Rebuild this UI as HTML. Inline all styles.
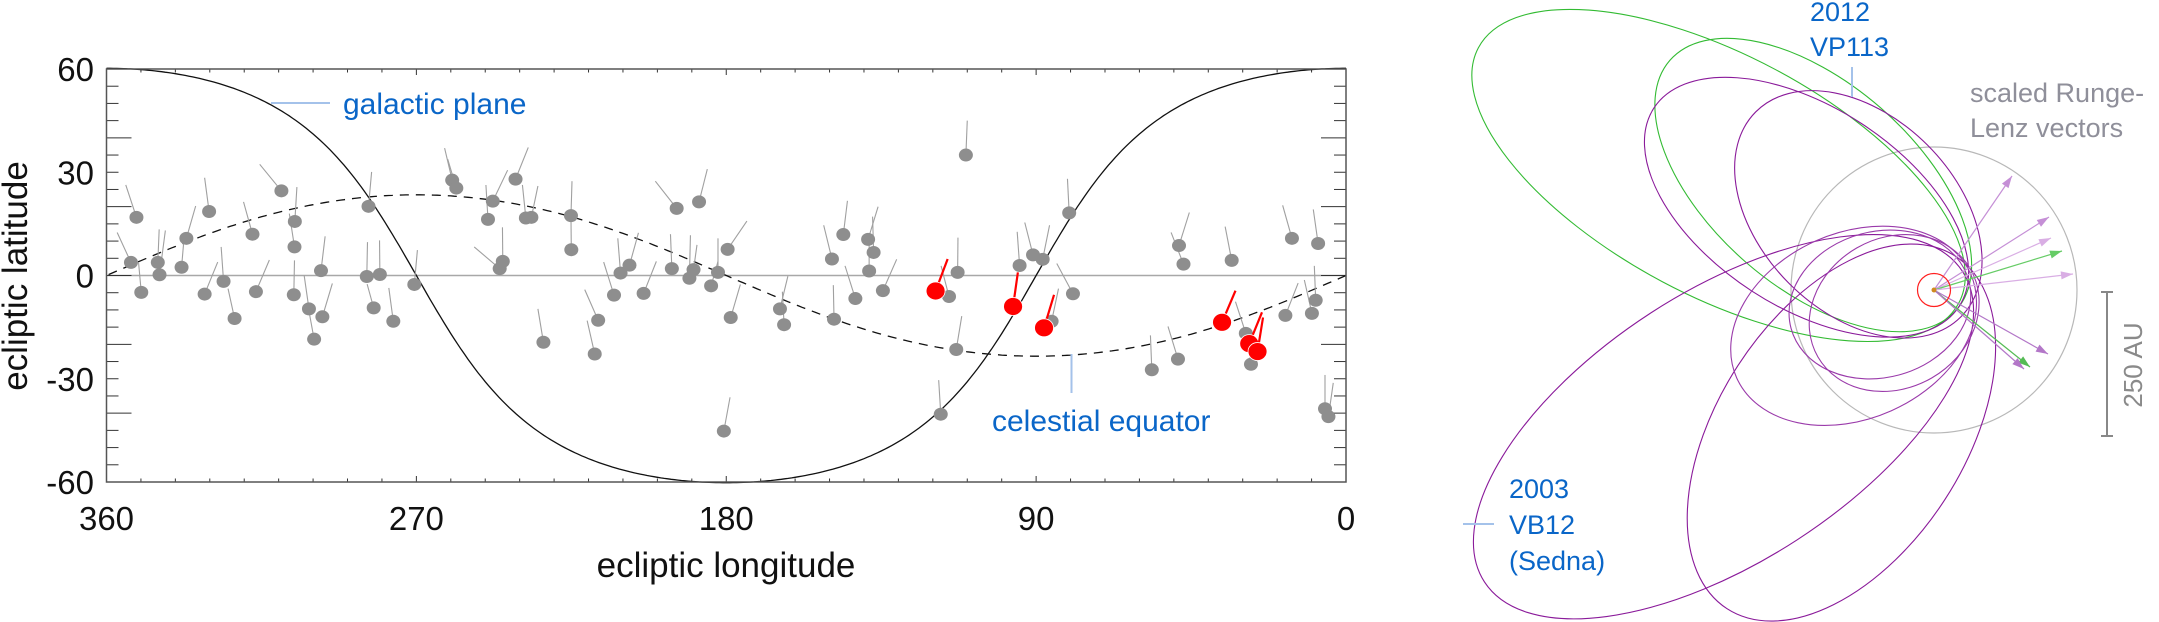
<!DOCTYPE html>
<html><head><meta charset="utf-8"><style>
html,body{margin:0;padding:0;background:#fff;width:2159px;height:622px;overflow:hidden;}
svg{display:block;font-family:"Liberation Sans",sans-serif;overflow:hidden;}
</style></head><body>
<svg id="root" width="2159" height="622" viewBox="0 0 2159 622" xmlns="http://www.w3.org/2000/svg">
<g id="chart"></g>
<g id="orbits"></g>
</svg>
<script>
// ---- data: gray objects ----
const grayLon = [352.9,351.3,349.9,345.1,344.6,338.2,336.8,331.5,330.2,326.0,322.8,317.6,316.6,309.2,305.3,305.4,305.6,301.2,299.7,297.7,297.3,284.4,283.9,280.6,282.4,276.7,270.6,259.6,258.4,249.2,247.8,241.2,238.2,236.6,244.9,245.8,233.1,225.1,225.0,217.2,218.2,212.6,210.7,208.1,204.0,194.4,195.8,190.7,187.9,189.5,184.4,182.4,179.6,178.7,180.7,164.4,163.2,149.3,148.7,146.0,142.5,138.8,137.2,138.5,134.5,115.3,112.8,110.4,113.2,117.7,94.8,90.9,88.1,80.4,85.5,79.3,56.4,48.8,48.5,47.2,33.2,29.1,27.6,15.7,8.1,17.6,9.9,8.8,6.1,5.1];
const grayLat = [3.8,16.9,-4.9,3.8,0.2,2.4,10.8,-5.4,18.6,-1.7,-12.5,12.0,-4.7,24.6,15.7,8.3,-5.6,-9.7,-18.5,1.4,-12.0,-0.3,20.1,0.3,-9.4,-13.3,-2.6,27.7,25.4,16.3,21.6,28.0,16.7,16.9,4.1,2.0,-19.4,17.4,7.5,-13.0,-22.8,-5.7,0.7,3.0,-5.2,19.5,2.0,-0.8,21.4,1.7,-3.0,0.9,7.6,-12.2,-45.2,-9.7,-14.3,4.8,-12.7,11.9,-6.7,10.5,6.7,1.3,-4.4,-6.1,0.9,35.0,-21.5,-40.3,2.9,6.0,4.7,18.2,-13.3,-5.3,-27.4,-24.3,8.7,3.3,4.4,-16.8,-25.8,10.8,9.3,-11.6,-11.0,-7.2,-38.7,-41.0];
const grayTipLon = [356.9,354.4,350.7,344.7,342.9,337.6,334.1,327.7,331.5,326.7,324.7,320.2,312.7,315.5,304.7,306.9,305.4,302.6,301.5,296.5,294.4,284.2,283.0,280.7,284.3,278.0,269.7,261.8,260.9,249.8,243.5,237.5,239.2,234.7,245.0,253.2,234.7,224.8,225.1,221.1,220.4,215.6,211.5,205.5,200.3,200.6,196.2,190.4,185.5,188.5,182.4,182.4,174.0,175.9,178.9,162.1,163.7,151.7,148.9,144.8,145.5,135.9,137.5,138.5,130.5,117.6,112.7,110.0,111.6,118.3,95.5,93.3,86.1,80.9,83.5,84.0,56.8,51.7,45.5,50.8,35.1,32.1,28.8,18.4,9.5,13.9,12.1,9.2,6.1,3.7];
const grayTipLat = [12.5,26.3,3.9,13.4,13.1,9.4,20.2,3.9,28.4,8.3,-3.8,21.4,4.5,32.3,25.7,18.0,4.4,0.1,-8.7,11.4,-2.3,9.7,30.1,10.2,-2.5,-3.6,7.4,37.0,33.8,26.3,30.6,37.2,26.3,26.0,14.0,8.3,-9.7,27.4,17.0,-4.1,-13.1,3.9,10.8,12.4,4.1,27.4,12.0,11.7,30.9,8.9,4.1,10.8,15.8,-2.6,-35.4,-0.2,-4.7,14.6,-2.8,21.7,2.8,20.0,17.1,11.0,4.7,2.8,11.0,45.0,-11.8,-30.4,12.7,15.4,14.6,28.1,-3.8,3.5,-17.4,-14.8,18.3,12.5,14.2,-7.6,-16.2,20.4,19.2,-2.2,-1.3,2.8,-28.9,-31.2];
// ---- data: red objects ----
const redLon = [119.2,96.7,87.7,36.0,28.1,25.7];
const redLat = [-4.5,-9.0,-15.2,-13.6,-19.8,-22.1];
const redTipLon = [115.7,95.3,84.8,32.1,24.4,24.1];
const redTipLat = [4.8,0.9,-5.6,-4.4,-10.7,-12.2];
const xTickLabels = [360,270,180,90,0];
const yTickLabels = [60,30,0,-30,-60];

const NS='http://www.w3.org/2000/svg';
function mk(tag, attrs, parent){const e=document.createElementNS(NS,tag);for(const k in attrs)e.setAttribute(k,attrs[k]);parent.appendChild(e);return e;}
const X0=106.5,X1=1346,Y0=69,Y1=482;
const xs=lon=>X0+(360-lon)/360*(X1-X0);
const ys=lat=>Y0+(60-lat)/120*(Y1-Y0);
const chart=document.getElementById('chart');

let z=mk('line',{x1:X0,x2:X1,y1:ys(0),y2:ys(0),stroke:'#a8a8a8','stroke-width':1.5},chart);



for(let d=0; d<=360; d+=10){
  const L = d%90===0?6:3.5;
  const t1=mk('line',{x1:xs(d),x2:xs(d),y1:Y0,y2:Y0+L,stroke:'#333','stroke-width':1},chart);
  
  
  const t2=mk('line',{x1:xs(d),x2:xs(d),y1:Y1,y2:Y1-L,stroke:'#333','stroke-width':1},chart);
  
  
}
for(let l=-60; l<=60; l+=5){
  const L = l%20===0?25:12;
  const t1=mk('line',{x1:X0,x2:X0+L,y1:ys(l),y2:ys(l),stroke:'#333','stroke-width':1},chart);
  
  
  const t2=mk('line',{x1:X1,x2:X1-L,y1:ys(l),y2:ys(l),stroke:'#333','stroke-width':1},chart);
  
  
}
xTickLabels.forEach(v=>{
  const t=mk('text',{x:xs(v),y:530,'text-anchor':'middle','font-size':33,fill:'#111'},chart);
  t.textContent=v;
  
  
});
yTickLabels.forEach(v=>{
  const t=mk('text',{x:94,y:ys(v)+12,'text-anchor':'end','font-size':33,fill:'#111'},chart);
  t.textContent=v;
  
  
});
let xt=mk('text',{x:726,y:577,'text-anchor':'middle','font-size':35,fill:'#111'},chart);
xt.textContent='ecliptic longitude';


let yt=mk('text',{x:0,y:0,transform:'translate(27,276) rotate(-90)','text-anchor':'middle','font-size':35,fill:'#111'},chart);
yt.textContent='ecliptic latitude';



const R=Math.PI/180;
let gp='',ce='';
for(let l=0;l<=360;l+=1){
  const g=Math.atan(Math.tan(60.2*R)*Math.sin((l-270)*R))/R;
  const c=-Math.atan(Math.tan(23.44*R)*Math.sin(l*R))/R;
  gp+=(l?'L':'M')+xs(l).toFixed(1)+','+ys(g).toFixed(1);
  ce+=(l?'L':'M')+xs(l).toFixed(1)+','+ys(c).toFixed(1);
}
let gpl=mk('path',{d:gp,fill:'none',stroke:'#111','stroke-width':1.3},chart);


let cel=mk('path',{d:ce,fill:'none',stroke:'#111','stroke-width':1.3,'stroke-dasharray':'9,7'},chart);



grayLon.forEach((lo,i)=>{
  const s=mk('line',{x1:xs(lo),y1:ys(grayLat[i]),x2:xs(grayTipLon[i]),y2:ys(grayTipLat[i]),stroke:'#a0a0a0','stroke-width':1.1},chart);
  
  
});
grayLon.forEach((lo,i)=>{
  const c=mk('ellipse',{cx:xs(lo),cy:ys(grayLat[i]),rx:7,ry:6.5,fill:'#8e8e8e'},chart);
  
  
});
redLon.forEach((lo,i)=>{
  const s=mk('line',{x1:xs(lo),y1:ys(redLat[i]),x2:xs(redTipLon[i]),y2:ys(redTipLat[i]),stroke:'#ff0000','stroke-width':2.2},chart);
  
  
  const c=mk('ellipse',{cx:xs(lo),cy:ys(redLat[i]),rx:9.5,ry:9,fill:'#ff0000',stroke:'#fff','stroke-width':0.8},chart);
  
  
});
let fr=mk('rect',{x:X0,y:Y0,width:X1-X0,height:Y1-Y0,fill:'none',stroke:'#555','stroke-width':1.5},chart);


let l1=mk('line',{x1:271,x2:330,y1:103,y2:103,stroke:'#a4c2ea','stroke-width':2},chart);


let a1=mk('text',{x:343,y:114,'font-size':30,fill:'#0a66c8'},chart);
a1.textContent='galactic plane';


let l2=mk('line',{x1:1071.5,x2:1071.5,y1:354,y2:393,stroke:'#a4c2ea','stroke-width':2},chart);


let a2=mk('text',{x:992,y:431,'font-size':30,fill:'#0a66c8'},chart);
a2.textContent='celestial equator';



// ---- orbit diagram ----
const SX=1934,SY=290;
const orbA  =[272,190,182,145,285,210,128,92,88];
const orbQ  =[28,30,30,38,34,40,40,36,42];
const orbAng=[208,221,213,225,147,123,156,165,150];
const orbCol=['#33bb33','#33bb33','#8a1a9a','#8a1a9a','#8a1a9a','#8a1a9a','#9a3aaa','#9a3aaa','#9a3aaa'];
const orbG=document.getElementById('orbits');
let bc=mk('circle',{cx:SX,cy:SY,r:143,fill:'none',stroke:'#b8b8b8','stroke-width':1.2},orbG);


orbA.forEach((a,i)=>{
  const q=orbQ[i],c=a-q,b=Math.sqrt(a*a-c*c),th=orbAng[i]*R;
  const cx=SX+c*Math.cos(th),cy=SY+c*Math.sin(th);
  const e=mk('ellipse',{cx:cx,cy:cy,rx:a,ry:b,transform:`rotate(${orbAng[i]} ${cx} ${cy})`,fill:'none',stroke:orbCol[i],'stroke-width':1.1},orbG);
  
  
});
const arrX=[2012,2049,2051,2062,2073,2048,2030,2024];
const arrY=[176,217,238,251,274,354,367,369];
const arrC=['#c58fd6','#c58fd6','#d9aee4','#66cc66','#d9aee4','#b377c8','#55bb55','#b377c8'];
arrX.forEach((x,i)=>{
  const ln=mk('line',{x1:SX,y1:SY,x2:x,y2:arrY[i],stroke:arrC[i],'stroke-width':1.2},orbG);
  
  
  const ang=Math.atan2(arrY[i]-SY,x-SX);
  const p=[[x,arrY[i]],[x-12*Math.cos(ang)+4*Math.sin(ang),arrY[i]-12*Math.sin(ang)-4*Math.cos(ang)],[x-12*Math.cos(ang)-4*Math.sin(ang),arrY[i]-12*Math.sin(ang)+4*Math.cos(ang)]];
  const h=mk('polygon',{points:p.map(v=>v.join(',')).join(' '),fill:arrC[i]},orbG);
  
  
});
let rc=mk('circle',{cx:SX,cy:SY,r:16.5,fill:'none',stroke:'#ff2020','stroke-width':1.2},orbG);


let sun=mk('circle',{cx:SX,cy:SY,r:2.5,fill:'#d08a20'},orbG);


let sb=mk('path',{d:'M2107,292 V436 M2101,292 H2113 M2101,436 H2113',stroke:'#888','stroke-width':2,fill:'none'},orbG);


let sbt=mk('text',{x:0,y:0,transform:'translate(2142,365) rotate(-90)','text-anchor':'middle','font-size':26,fill:'#8a8a8a'},orbG);
sbt.textContent='250 AU';


function lbl(x,y,txt,col,name){const t=mk('text',{x:x,y:y,'font-size':27,fill:col},orbG);t.textContent=txt;}
lbl(1970,102,'scaled Runge-','#8f8f9a','runge-lenz-label-line1');
lbl(1970,137,'Lenz vectors','#8f8f9a','runge-lenz-label-line2');
lbl(1810,21,'2012','#0a66c8','vp113-label-line1');
lbl(1810,56,'VP113','#0a66c8','vp113-label-line2');
lbl(1509,498,'2003','#0a66c8','sedna-label-line1');
lbl(1509,534,'VB12','#0a66c8','sedna-label-line2');
lbl(1509,570,'(Sedna)','#0a66c8','sedna-label-line3');
let v1=mk('line',{x1:1852,x2:1852,y1:67,y2:97,stroke:'#a4c2ea','stroke-width':2},orbG);


let v2=mk('line',{x1:1463,x2:1494,y1:524,y2:524,stroke:'#a4c2ea','stroke-width':2},orbG);


</script>
</body></html>
